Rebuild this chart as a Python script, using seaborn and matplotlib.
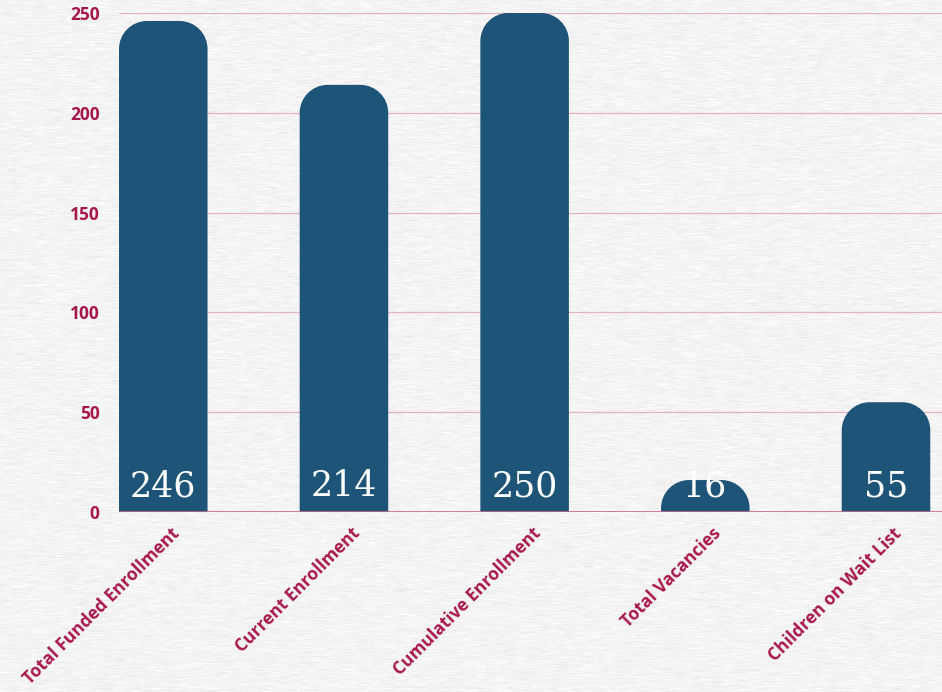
import numpy as np
import matplotlib
matplotlib.use("Agg")
import matplotlib.pyplot as plt
import seaborn as sns
from matplotlib.path import Path
from matplotlib.patches import PathPatch
from matplotlib.transforms import ScaledTranslation

# Enrollment summary
categories = ["Total Funded Enrollment", "Current Enrollment", "Cumulative Enrollment",
              "Total Vacancies", "Children on Wait List"]
values = [246, 214, 250, 16, 55]
y_ticks = [0, 50, 100, 150, 200, 250]

BAR_COLOR = "#1d5478"
LABEL_COLOR = "#a8174a"
GRID_COLOR = "#e2b4c2"
ZERO_COLOR = "#c56a86"

sns.set_theme(style="white")
plt.rcParams["font.family"] = ["Open Sans", "DejaVu Sans"]

fig = plt.figure(figsize=(9.42, 6.92), dpi=100)

# paper-like backdrop with faint horizontal fibres
bg = fig.add_axes([0, 0, 1, 1], zorder=-10)
rng = np.random.default_rng(7)
noise = rng.normal(0, 1, (692, 942))
kernel = np.ones(9) / 9
noise = np.apply_along_axis(lambda r: np.convolve(r, kernel, mode="same"), 1, noise)
paper = 0.955 + 0.04 * noise
bg.imshow(np.clip(paper, 0, 1), cmap="gray", vmin=0, vmax=1, aspect="auto", interpolation="nearest")
bg.axis("off")

ax = fig.add_axes([119 / 942, 1 - 512 / 692, 1 - 119 / 942, (512 - 13) / 692])
ax.set_facecolor("none")

sns.barplot(x=categories, y=values, color=BAR_COLOR, width=0.49, saturation=1, ax=ax, zorder=3)

ax.set_xlim(-0.245, 4.31)
ax.set_ylim(0, 250)
ax.set_yticks(y_ticks)
ax.set_ylabel("")
ax.set_xlabel("")
for s in ax.spines.values():
    s.set_visible(False)

for t in y_ticks[1:]:
    ax.axhline(t, color=GRID_COLOR, lw=0.9, zorder=1)
ax.axhline(0, color=ZERO_COLOR, lw=1.2, zorder=4)

ax.tick_params(axis="y", length=0, pad=14, labelsize=12.5, labelcolor=LABEL_COLOR)
ax.tick_params(axis="x", length=0, pad=2, labelsize=12.5, labelcolor=LABEL_COLOR)
for lab in ax.get_yticklabels():
    lab.set_fontweight("bold")
offset = ScaledTranslation(5 / 72, -7 / 72, fig.dpi_scale_trans)
for lab in ax.get_xticklabels():
    lab.set_fontweight("bold")
    lab.set_rotation(45)
    lab.set_ha("right")
    lab.set_va("top")
    lab.set_rotation_mode("anchor")
    lab.set_transform(lab.get_transform() + offset)

# rounded tops on every bar
def rounded_top(bar, r_px=28):
    x0, y0 = bar.get_x(), bar.get_y()
    w, h = bar.get_width(), bar.get_height()
    o = ax.transData.transform((0, 0))
    px_x = ax.transData.transform((1, 0))[0] - o[0]
    px_y = ax.transData.transform((0, 1))[1] - o[1]
    r = min(r_px, w * px_x / 2, h * px_y)
    rx, ry = r / px_x, r / px_y
    k = 0.5523
    top = y0 + h
    verts = [(x0, y0), (x0 + w, y0), (x0 + w, top - ry),
             (x0 + w, top - ry + k * ry), (x0 + w - rx + k * rx, top), (x0 + w - rx, top),
             (x0 + rx, top),
             (x0 + rx - k * rx, top), (x0, top - ry + k * ry), (x0, top - ry),
             (x0, y0)]
    codes = [Path.MOVETO, Path.LINETO, Path.LINETO,
             Path.CURVE4, Path.CURVE4, Path.CURVE4,
             Path.LINETO,
             Path.CURVE4, Path.CURVE4, Path.CURVE4,
             Path.CLOSEPOLY]
    p = PathPatch(Path(verts, codes), facecolor=BAR_COLOR, edgecolor="none", zorder=3)
    ax.add_patch(p)
    bar.set_visible(False)
    return p

bars = list(ax.patches)
for bar, v in zip(bars, values):
    shape = rounded_top(bar)
    cx = bar.get_x() + bar.get_width() / 2
    txt = ax.text(cx, 8, f"{v}", ha="center", va="baseline", color="white",
                  fontsize=25, family=["DejaVu Serif"], zorder=5)
    txt.set_clip_path(shape)

fig.savefig("out.png", dpi=100)
